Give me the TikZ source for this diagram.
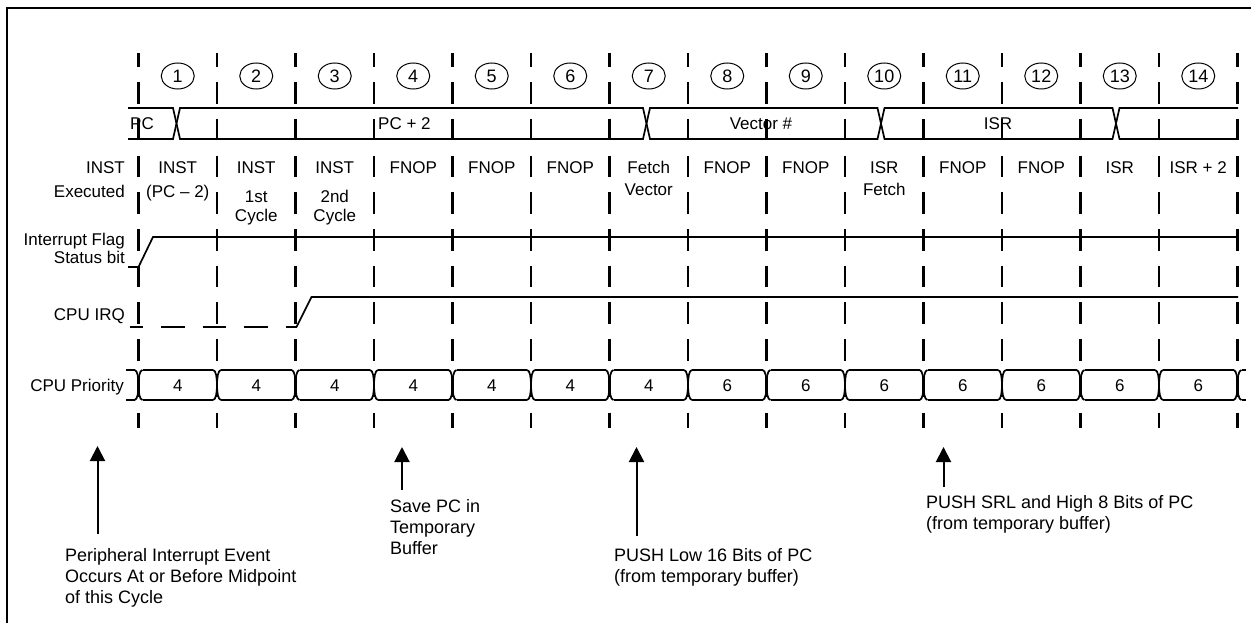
\documentclass[tikz,border=0pt]{standalone}
\usepackage{fontspec}
\setmainfont{Liberation Sans}
\usetikzlibrary{arrows.meta,shapes.geometric}
\begin{document}
\begin{tikzpicture}[x=1pt,y=-1pt,
  sig/.style={line width=1.7pt},
  gridline/.style={line width=2.2pt, dash pattern=on 21.5pt off 15.2pt, dash phase=7.5pt},
  lbl/.style={font=\fontsize{17}{20}\selectfont, inner sep=0pt, anchor=base},
  rlbl/.style={lbl, anchor=base east},
  ann/.style={font=\fontsize{18}{21}\selectfont, inner sep=0pt, anchor=north west, align=left},
  num/.style={draw, ellipse, line width=1pt, minimum width=33pt, minimum height=26pt, inner sep=0pt, font=\fontsize{18}{18}\selectfont},
  arr/.style={line width=2pt, -{Triangle[width=15pt,length=15pt]}},
]
\useasboundingbox (0,0) rectangle (1251,623);
\fill[white] (0,0) rectangle (1251,623);
% frame
\draw[line width=2.5pt] (7,626) -- (7,8) -- (1254,8);
% cycle boundaries
\foreach \i in {0,...,14} {
  \draw[gridline] ({138.5+78.5*\i},53) -- ({138.5+78.5*\i},428);
}
% cycle numbers
\foreach \i in {1,...,14} {
  \node[num] (n\i) at ({99.25+78.5*\i},76) {\i};
}
% PC bus row
\draw[sig] (128,108) -- (173,108) -- (180,139) -- (643,139) -- (650,108) -- (877.5,108) -- (884.5,139) -- (1112.5,139) -- (1119.5,108) -- (1238,108);
\draw[sig] (128,139) -- (173,139) -- (180,108) -- (643,108) -- (650,139) -- (877.5,139) -- (884.5,108) -- (1112.5,108) -- (1119.5,139) -- (1238,139);
\node[lbl, anchor=base west] (bpc) at (130,129.6) {PC};
\node[lbl, anchor=base west] (bpc2) at (378,129.6) {PC + 2};
\node[lbl] (bvec) at (761,129.6) {Vector \#};
\node[lbl] (bisr) at (998,129.6) {ISR};
% row labels
\node[rlbl] (lInst) at (125,174) {INST};
\node[rlbl] (lExec) at (125,197) {Executed};
\node[rlbl] (lFlag) at (125,245) {Interrupt Flag};
\node[rlbl] (lStat) at (125,263) {Status bit};
\node[rlbl] (lIrq) at (125,320.5) {CPU IRQ};
\node[rlbl] (lPri) at (124,391) {CPU Priority};
% executed instructions
\node[lbl] (e1a) at (177.75,174) {INST};
\node[lbl] (e1b) at (177.75,197) {(PC – 2)};
\node[lbl] (e2a) at (256.25,174) {INST};
\node[lbl] (e2b) at (256.25,203) {1st};
\node[lbl] (e2c) at (256.25,222) {Cycle};
\node[lbl] (e3a) at (334.75,174) {INST};
\node[lbl] (e3b) at (334.75,203) {2nd};
\node[lbl] (e3c) at (334.75,222) {Cycle};
\node[lbl] (e4) at (413.25,174) {FNOP};
\node[lbl] (e5) at (491.75,174) {FNOP};
\node[lbl] (e6) at (570.25,174) {FNOP};
\node[lbl] (e7a) at (648.75,174) {Fetch};
\node[lbl] (e7b) at (648.75,196) {Vector};
\node[lbl] (e8) at (727.25,174) {FNOP};
\node[lbl] (e9) at (805.75,174) {FNOP};
\node[lbl] (e10a) at (884.25,174) {ISR};
\node[lbl] (e10b) at (884.25,196) {Fetch};
\node[lbl] (e11) at (962.75,174) {FNOP};
\node[lbl] (e12) at (1041.25,174) {FNOP};
\node[lbl] (e13) at (1119.75,174) {ISR};
\node[lbl] (e14) at (1198.25,174) {ISR + 2};
% interrupt flag
\draw[sig] (128,267) -- (138.5,267) -- (153,237) -- (1238,237);
% CPU IRQ
\draw[sig, dash pattern=on 23.5pt off 18pt, dash phase=10.5pt] (130,327) -- (296.5,327);
\draw[sig] (296.5,327) -- (311.5,297) -- (1238,297);
% CPU priority
\draw[sig] (126,370) -- (134.5,370);
\draw[sig] (126,400) -- (134.5,400);
\draw[sig] (1242,370) -- (1246,370);
\draw[sig] (1242,400) -- (1246,400);
\foreach \i in {0,...,14} {
  \draw[sig] ({138.5+78.5*\i-4},370) .. controls ({138.5+78.5*\i-1},370) and ({138.5+78.5*\i},378) .. ({138.5+78.5*\i},385) .. controls ({138.5+78.5*\i},392) and ({138.5+78.5*\i-1},400) .. ({138.5+78.5*\i-4},400);
  \draw[sig] ({138.5+78.5*\i+4},370) .. controls ({138.5+78.5*\i+1},370) and ({138.5+78.5*\i},378) .. ({138.5+78.5*\i},385) .. controls ({138.5+78.5*\i},392) and ({138.5+78.5*\i+1},400) .. ({138.5+78.5*\i+4},400);
}
\foreach \i in {0,...,13} {
  \draw[sig] ({142.5+78.5*\i},370) -- ({213+78.5*\i},370);
  \draw[sig] ({142.5+78.5*\i},400) -- ({213+78.5*\i},400);
}
\foreach \i in {1,...,7} { \node[lbl] (p\i) at ({99.25+78.5*\i},391) {4}; }
\foreach \i in {8,...,14} { \node[lbl] (p\i) at ({99.25+78.5*\i},391) {6}; }
% annotations
\node[ann] (t1) at (65,548) {Peripheral Interrupt Event\\Occurs At or Before Midpoint\\of this Cycle};
\node[ann] (t2) at (390,499) {Save PC in\\Temporary\\Buffer};
\node[ann] (t3) at (614,548) {PUSH Low 16 Bits of PC\\(from temporary buffer)};
\node[ann] (t4) at (926,495) {PUSH SRL and High 8 Bits of PC\\(from temporary buffer)};
\coordinate (a1s) at (97.5,534);  \coordinate (a1e) at (97.5,446);
\coordinate (a2s) at (402,490);   \coordinate (a2e) at (402,447);
\coordinate (a3s) at (636.5,536); \coordinate (a3e) at (636.5,447);
\coordinate (a4s) at (943.5,487); \coordinate (a4e) at (943.5,447);
\draw[arr] (a1s) -- (a1e);
\draw[arr] (a2s) -- (a2e);
\draw[arr] (a3s) -- (a3e);
\draw[arr] (a4s) -- (a4e);
\end{tikzpicture}
\end{document}
